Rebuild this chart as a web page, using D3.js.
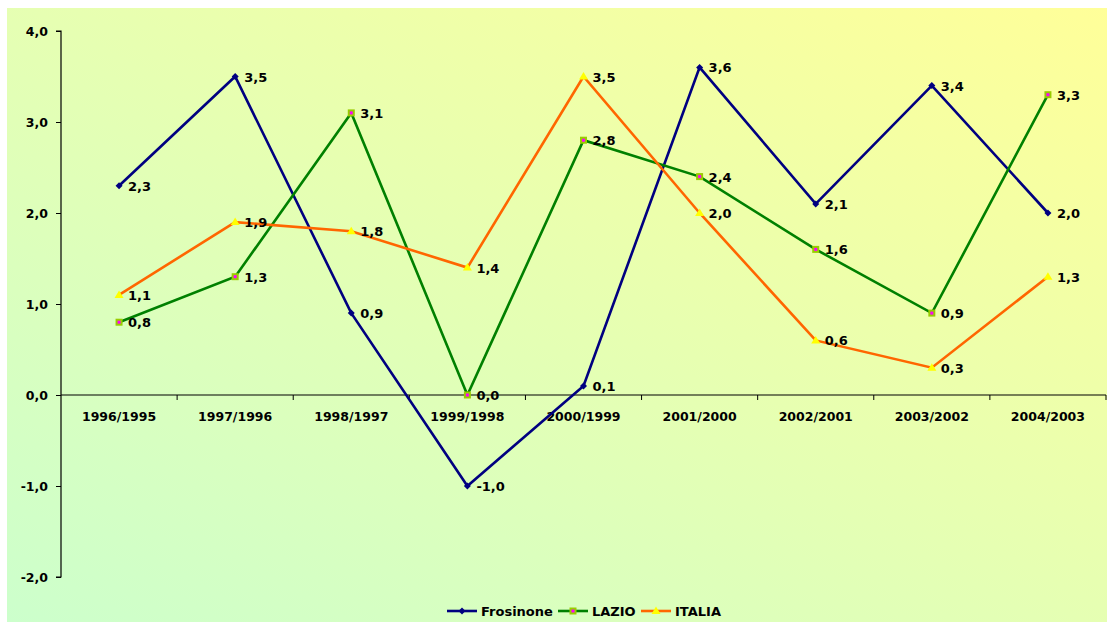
<!DOCTYPE html>
<html>
<head>
<meta charset="utf-8">
<script src="https://cdn.jsdelivr.net/npm/d3@7"></script>
<style>
  html, body { margin: 0; padding: 0; background: #ffffff; }
  svg { display: block; }
  text { font-family: "DejaVu Sans", sans-serif; font-weight: bold; fill: #000; }
</style>
</head>
<body>
<svg id="chart" width="1107" height="622"></svg>
<script>
// Annual change by period
const periods = ["1996/1995", "1997/1996", "1998/1997", "1999/1998", "2000/1999",
                 "2001/2000", "2002/2001", "2003/2002", "2004/2003"];
const frosinone = [2.3, 3.5, 0.9, -1.0, 0.1, 3.6, 2.1, 3.4, 2.0];
const lazio     = [0.8, 1.3, 3.1, 0.0, 2.8, 2.4, 1.6, 0.9, 3.3];
const italia    = [1.1, 1.9, 1.8, 1.4, 3.5, 2.0, 0.6, 0.3, 1.3];
const yTicks    = [-2, -1, 0, 1, 2, 3, 4];
const seriesNames = ["Frosinone", "LAZIO", "ITALIA"];

const series = [
  { name: seriesNames[0], values: frosinone, color: "#000080", marker: "diamond" },
  { name: seriesNames[1], values: lazio,     color: "#008000", marker: "square" },
  { name: seriesNames[2], values: italia,    color: "#ff6600", marker: "triangle" }
];

const W = 1107, H = 622;
const margin = { left: 61 };
const svg = d3.select("#chart");

// background panel with diagonal gradient
const defs = svg.append("defs");
const grad = defs.append("linearGradient")
  .attr("id", "bg").attr("x1", "0%").attr("y1", "100%").attr("x2", "100%").attr("y2", "0%");
grad.append("stop").attr("offset", "0%").attr("stop-color", "#ccffcc");
grad.append("stop").attr("offset", "100%").attr("stop-color", "#ffff99");
svg.append("rect").attr("x", 7).attr("y", 8).attr("width", W - 7).attr("height", H - 8)
  .attr("fill", "url(#bg)");

const x = d3.scaleBand().domain(periods).range([margin.left, 1106]).padding(0);
const y = d3.scaleLinear().domain([-2, 4]).range([577, 31]);
const fmt = v => d3.format(".1f")(v).replace(".", ",").replace("\u2212", "-");

// y axis
const yAxis = svg.append("g").attr("transform", `translate(${margin.left},0)`)
  .call(d3.axisLeft(y).tickValues(yTicks).tickFormat(fmt).tickSize(5).tickPadding(8));
yAxis.select(".domain").attr("stroke", "#000").attr("stroke-width", 1.2).attr("d", `M-5,${y(4)}H0V${y(-2)}H-5`);
yAxis.selectAll(".tick line").attr("stroke", "#000");
yAxis.selectAll("text").style("font-size", "12.5px");

// x axis on zero line
const xAxisG = svg.append("g").attr("transform", `translate(0,${y(0)})`);
xAxisG.append("line").attr("x1", margin.left).attr("x2", 1106).attr("y1", 0).attr("y2", 0)
  .attr("stroke", "#000").attr("stroke-width", 1.2);
const boundaries = periods.map(p => x(p)).concat([x(periods[periods.length - 1]) + x.bandwidth()]);
xAxisG.selectAll(".xt").data(boundaries.slice(1)).join("line")
  .attr("x1", d => d).attr("x2", d => d).attr("y1", 0).attr("y2", 5)
  .attr("stroke", "#000");
xAxisG.selectAll(".xl").data(periods).join("text")
  .attr("x", d => x(d) + x.bandwidth() / 2).attr("y", 26)
  .attr("text-anchor", "middle").style("font-size", "12.5px").text(d => d);

const cx = i => x(periods[i]) + x.bandwidth() / 2;

function drawMarker(g, type, color, px, py) {
  if (type === "diamond") {
    g.append("path").attr("d", `M${px},${py - 3.5}L${px + 3.5},${py}L${px},${py + 3.5}L${px - 3.5},${py}Z`)
      .attr("fill", color);
  } else if (type === "square") {
    g.append("rect").attr("x", px - 2.5).attr("y", py - 2.5).attr("width", 5).attr("height", 5)
      .attr("fill", "#ff00ff").attr("stroke", "#99cc00").attr("stroke-width", 2);
  } else {
    g.append("path").attr("d", `M${px},${py - 4.5}L${px + 4.5},${py + 3}L${px - 4.5},${py + 3}Z`)
      .attr("fill", "#ffff00");
  }
}

const line = d3.line().x((d, i) => cx(i)).y(d => y(d));

series.forEach(s => {
  svg.append("path").datum(s.values).attr("d", line)
    .attr("fill", "none").attr("stroke", s.color).attr("stroke-width", 2.6)
    .attr("stroke-linejoin", "miter");
});
series.forEach(s => {
  const g = svg.append("g");
  s.values.forEach((v, i) => drawMarker(g, s.marker, s.color, cx(i), y(v)));
  g.selectAll("text").data(s.values).join("text")
    .attr("x", (d, i) => cx(i) + 9).attr("y", d => y(d) + 5)
    .style("font-size", "13px").text(d => fmt(d));
});

// legend
const legend = svg.append("g").attr("transform", "translate(0,611)");
const legendPos = [447, 558, 641];
series.forEach((s, i) => {
  const lx = legendPos[i];
  const lg = legend.append("g");
  lg.append("line").attr("x1", lx).attr("x2", lx + 30).attr("y1", 0).attr("y2", 0)
    .attr("stroke", s.color).attr("stroke-width", 2.6);
  drawMarker(lg, s.marker, s.color, lx + 15, 0);
  lg.append("text").attr("x", lx + 34).attr("y", 5).style("font-size", "13px").text(s.name);
});
</script>
</body>
</html>
